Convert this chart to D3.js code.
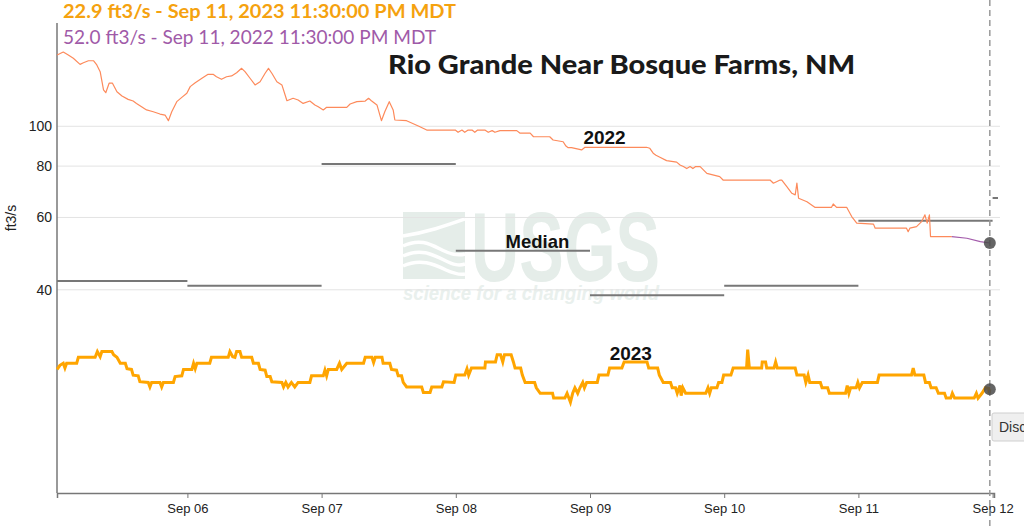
<!DOCTYPE html>
<html><head><meta charset="utf-8">
<script src="https://cdn.jsdelivr.net/npm/d3@7"></script>
<style>body{margin:0;background:#fff;overflow:hidden}svg{display:block}</style>
</head><body><svg id="c" width="1024" height="526"></svg>
<script>
// hours since Sep 05 00:00 and discharge (ft3/s)
const hours2022 = [0.7,1.8,2.7,3.6,4.8,5.4,6.3,7.2,7.8,8.4,9.0,9.4,10.0,10.6,11.4,12.3,13.4,14.3,14.9,15.8,16.7,17.9,19.1,20.0,20.6,21.2,22.1,23.0,23.9,24.5,25.4,26.6,27.7,28.6,29.2,30.1,31.0,31.9,32.8,33.7,34.3,35.2,36.1,37.0,37.9,38.5,39.1,40.0,40.9,41.8,42.9,43.8,44.7,45.9,46.8,47.4,48.3,48.9,50.7,52.5,53.1,54.3,55.8,56.4,56.9,57.9,58.7,59.3,60.1,60.8,61.1,63.2,65.3,66.8,71.9,72.4,73.1,73.6,74.2,74.9,75.4,75.9,77.2,77.8,78.5,79.0,79.9,82.9,83.5,85.3,85.9,88.8,89.4,91.2,91.7,92.1,92.7,94.5,95.1,106.1,106.7,107.3,107.8,108.5,109.7,111.5,112.1,112.7,113.3,113.9,114.4,114.9,115.7,116.9,119.2,119.8,128.2,128.8,130.0,130.3,131.2,132.1,132.7,133.0,133.3,134.8,136.2,139.2,139.5,140.1,141.9,142.8,143.7,146.7,147.0,152.6,152.9,153.2,154.4,155.3,155.9,156.3,156.7,156.9,160.7];
const flow2022 = [149.1,151.6,149.1,146.4,141.5,142.8,144.4,144.4,141.0,135.8,122.6,120.7,127.3,127.3,121.4,118.5,116.3,115.2,113.7,111.6,109.6,108.5,107.1,106.5,103.2,108.5,114.8,117.6,120.3,124.9,127.7,130.9,133.8,133.8,132.0,130.1,132.0,132.6,135.0,138.4,135.8,130.9,126.1,128.4,134.6,138.4,134.6,128.4,126.1,115.4,117.0,115.9,113.7,115.2,112.7,111.6,109.6,111.2,111.2,111.2,113.3,114.8,115.2,117.0,115.4,112.7,103.2,108.5,114.8,109.6,103.6,103.2,100.2,97.9,97.9,96.7,97.9,96.7,97.9,97.9,96.7,97.9,97.9,96.7,97.6,96.7,97.6,97.6,96.2,96.2,94.3,94.3,92.6,91.7,89.5,88.7,88.7,87.6,88.9,88.9,88.4,86.0,85.0,84.1,82.5,81.8,80.5,79.8,78.9,79.8,78.9,79.8,79.8,76.8,75.4,74.0,74.0,72.7,74.0,74.0,71.3,68.7,68.1,72.7,66.8,65.5,63.5,63.5,64.7,63.5,63.5,60.3,58.1,57.8,56.5,56.5,55.4,56.5,57.0,58.6,60.9,58.1,60.9,53.9,53.9];
const hours2022Prov = [160.7,163.4,165.8,167.5];
const flow2022Prov = [53.9,53.4,52.4,52.0];

const hours2023 = [0.7,1.2,1.8,2.1,2.4,4.2,4.5,7.5,7.9,8.4,8.7,10.5,10.8,11.4,12.0,12.9,13.2,14.0,14.3,15.2,15.5,17.0,17.3,17.6,19.1,19.4,19.7,21.5,21.8,23.0,23.3,24.8,25.1,25.4,25.7,28.0,28.3,31.3,31.6,32.1,32.5,32.8,33.4,33.7,35.5,35.8,36.7,37.0,37.9,38.2,38.8,39.1,40.9,41.2,41.6,42.0,42.6,43.2,43.8,45.9,46.2,48.3,48.6,48.9,49.2,50.7,51.2,51.6,52.5,55.5,55.8,57.0,57.3,57.6,58.8,59.0,60.2,60.5,61.4,61.7,62.3,62.6,63.2,65.9,66.2,67.4,67.7,69.5,69.8,71.7,72.0,73.6,74.0,74.3,74.8,77.2,77.3,79.1,79.4,80.0,80.4,80.7,81.9,82.3,82.6,83.6,83.9,84.4,86.1,86.4,87.1,89.3,89.5,91.5,91.9,92.5,92.9,93.3,93.8,94.2,94.7,95.0,95.4,97.3,97.6,99.2,99.5,101.7,102.1,106.2,106.5,108.1,108.4,109.1,110.4,110.7,111.3,111.6,112.1,112.3,112.6,113.1,116.7,117.1,117.4,117.7,118.7,119.0,119.6,119.9,121.2,121.6,124.0,124.2,124.5,126.7,126.8,127.4,127.6,128.9,129.2,129.5,132.7,133.0,134.3,134.6,135.0,135.3,137.2,137.5,138.5,138.8,141.7,142.0,142.3,142.6,143.6,143.9,144.2,144.7,147.4,147.7,153.5,153.8,154.1,155.7,156.0,156.7,157.0,157.9,158.3,159.4,159.7,160.5,160.8,161.2,164.7,165.1,165.4,166.1,166.7,167.3,167.4,167.5];
const flow2023 = [25.6,26.2,26.5,25.8,26.5,26.5,27.4,27.4,28.3,27.5,28.3,28.3,27.8,27.4,26.5,26.5,25.7,25.6,24.8,24.7,23.9,23.8,23.2,23.8,23.8,23.2,23.8,23.8,24.6,24.7,25.6,25.6,26.5,25.7,26.5,26.5,27.4,27.4,28.3,27.5,27.4,28.3,28.3,27.4,27.4,26.5,26.5,25.6,25.5,24.6,24.6,23.9,23.8,23.2,23.8,23.2,23.8,23.2,23.8,23.8,24.7,24.7,25.5,24.7,25.6,25.6,26.5,25.6,26.5,26.5,27.4,27.4,26.6,27.4,27.4,26.5,26.5,25.6,25.5,24.7,24.7,23.8,23.2,23.2,22.5,22.5,23.2,23.2,23.9,23.8,24.8,24.8,25.7,24.8,25.8,25.8,26.7,26.7,27.8,27.8,26.7,27.8,27.8,26.7,25.8,25.8,24.8,23.8,23.8,23.1,22.4,22.4,21.8,21.8,22.4,21.3,22.4,23.1,22.4,23.1,23.8,23.1,23.8,23.8,24.8,24.8,25.8,25.8,26.7,26.7,25.8,25.8,24.8,23.8,23.8,23.1,23.1,22.4,23.4,22.1,23.1,22.4,22.4,23.1,22.4,23.1,23.1,23.8,23.8,24.8,24.8,25.8,25.8,28.6,25.8,25.8,26.7,26.7,25.8,25.8,26.7,25.8,25.8,24.8,24.8,23.8,24.8,23.8,23.8,23.1,23.1,22.4,22.4,23.4,22.4,23.1,23.1,23.8,23.1,23.8,23.8,24.8,24.8,25.8,24.8,24.8,23.8,23.8,23.1,23.1,22.4,22.4,21.8,21.8,22.4,21.8,21.8,22.4,21.8,22.4,23.1,23.0,22.4,22.9];

const medianDays = [0,1,2,3,4,5,6,7]; // day index from Sep 05
const medianValues = [42.0,40.9,81.0,49.8,38.8,40.9,58.9,66.9];

const yTicks = [40,60,80,100];
const headerLines = ["22.9 ft3/s - Sep 11, 2023 11:30:00 PM MDT","52.0 ft3/s - Sep 11, 2022 11:30:00 PM MDT"];
const titleText = "Rio Grande Near Bosque Farms, NM";

const base = Date.UTC(2023,8,5,0,0);
const H = 3600e3;
const T = h => new Date(base + h*H);

const svg = d3.select("#c");
const x = d3.scaleUtc().domain([T(0.68), T(168.25)]).range([57, 994]);
const y = d3.scaleLog().domain([12.81, 177.4]).range([493, 24]);

// watermark
const WM = "#e5ede9";
const wm = svg.append("g").attr("fill",WM);
wm.append("rect").attr("x",403).attr("y",212).attr("width",62).attr("height",67);
const cut = svg.append("g").attr("fill","none").attr("stroke","#fff").attr("stroke-width",3.5);
cut.append("path").attr("d","M465,219 C445,226 428,232 403,236");
cut.append("path").attr("d","M403,246 C420,238 430,244 442,250 C452,255 458,256 465,254");
cut.append("path").attr("d","M403,256 C420,248 432,254 444,260 C454,265 459,266 465,264");
cut.append("path").attr("d","M403,266 C420,258 434,264 446,270 C455,274 460,275 465,274");
wm.append("text").attr("x",471).attr("y",281).attr("font-family","Liberation Sans, Arial").attr("font-weight","bold")
  .attr("font-size",98).attr("textLength",189).attr("lengthAdjust","spacingAndGlyphs").text("USGS");
wm.append("text").attr("x",403).attr("y",300).attr("font-family","Liberation Sans, Arial").attr("font-weight","bold")
  .attr("font-style","italic").attr("font-size",21).attr("textLength",256).attr("lengthAdjust","spacingAndGlyphs").attr("fill","#e9f0ed")
  .text("science for a changing world");

// grid
svg.append("g").selectAll("line").data(yTicks).join("line")
  .attr("x1",57).attr("x2",1000).attr("y1",d=>y(d)).attr("y2",d=>y(d))
  .attr("stroke","#e3e3e3").attr("stroke-width",1);

// y labels
svg.append("g").selectAll("text").data(yTicks).join("text")
  .attr("x",52).attr("y",d=>y(d)).attr("dy","0.35em").attr("text-anchor","end")
  .attr("font-family","Liberation Sans, Arial").attr("font-size",14).attr("fill","#222").text(d=>d);
svg.append("text").attr("transform","translate(16,218) rotate(-90)").attr("text-anchor","middle")
  .attr("font-family","Liberation Sans, Arial").attr("font-size",14).attr("fill","#222").text("ft3/s");

// axes lines
svg.append("line").attr("x1",57).attr("x2",57).attr("y1",23).attr("y2",493).attr("stroke","#777").attr("stroke-width",1.5);
const xa = svg.append("g").attr("transform","translate(0,493)")
  .call(d3.axisBottom(x).ticks(d3.utcDay.every(1)).tickFormat(d3.utcFormat("%b %d")).tickSizeOuter(0).tickSize(5));
xa.select(".domain").attr("stroke","#777").attr("stroke-width",1.5);
xa.selectAll(".tick line").attr("stroke","#777");
xa.selectAll("text").attr("font-family","Liberation Sans, Arial").attr("font-size",13).attr("fill","#222").attr("dy","0.95em");

// clip
svg.append("clipPath").attr("id","cp").append("rect").attr("x",57).attr("y",0).attr("width",941).attr("height",493);

// medians
svg.append("g").attr("clip-path","url(#cp)").selectAll("line").data(medianDays).join("line")
  .attr("x1",d=>x(T(d*24))).attr("x2",d=>x(T(d*24+24)))
  .attr("y1",(d,i)=>y(medianValues[i])).attr("y2",(d,i)=>y(medianValues[i]))
  .attr("stroke","#777").attr("stroke-width",2);

const line = d3.line().x(d=>x(T(d[0]))).y(d=>y(d[1]));
svg.append("path").datum(d3.zip(hours2022,flow2022)).attr("d",line)
  .attr("fill","none").attr("stroke","#fd8a5b").attr("stroke-width",1.2).attr("stroke-linejoin","round");
svg.append("path").datum(d3.zip(hours2022Prov,flow2022Prov)).attr("d",line)
  .attr("fill","none").attr("stroke","#a35bab").attr("stroke-width",1.2);
svg.append("path").datum(d3.zip(hours2023,flow2023)).attr("d",line)
  .attr("fill","none").attr("stroke","#ffa500").attr("stroke-width",3).attr("stroke-linejoin","miter");

// labels
const lab = (t,h,v,fs)=>svg.append("text").attr("x",x(T(h))).attr("y",y(v)).attr("text-anchor","middle")
  .attr("font-family","Liberation Sans, Arial").attr("font-weight","bold").attr("font-size",fs).attr("fill","#111").text(t);
lab("2022",98.6,90.4,19);
lab("2023",103.3,27.0,19);
lab("Median",86.6,50.6,18.5);

// cursor
svg.append("line").attr("x1",x(T(167.5))).attr("x2",x(T(167.5))).attr("y1",0).attr("y2",526)
  .attr("stroke","#999").attr("stroke-width",1.5).attr("stroke-dasharray","6,4");
svg.selectAll("circle.pt").data([flow2022Prov[flow2022Prov.length-1], flow2023[flow2023.length-1]]).join("circle")
  .attr("cx",x(T(167.5))).attr("cy",d=>y(d)).attr("r",6).attr("fill","#4a4a4a").attr("opacity",0.85);

// tooltip
svg.append("rect").attr("x",992).attr("y",413).attr("width",60).attr("height",28).attr("rx",2)
  .attr("fill","#efefef").attr("stroke","#cfcfcf");
svg.append("text").attr("x",999).attr("y",432).attr("font-family","Liberation Sans, Arial").attr("font-size",14)
  .attr("fill","#333").text("Disc");

// header
svg.append("text").attr("x",63).attr("y",18).attr("font-family","Lato, sans-serif").attr("font-weight","bold")
  .attr("font-size",19.5).attr("fill","#f5a20f").attr("textLength",393).attr("lengthAdjust","spacingAndGlyphs").text(headerLines[0]);
svg.append("text").attr("x",63).attr("y",44).attr("font-family","Lato, sans-serif")
  .attr("font-size",19.5).attr("fill","#a05aa8").attr("textLength",373).attr("lengthAdjust","spacingAndGlyphs").text(headerLines[1]);
svg.append("text").attr("x",388).attr("y",74).attr("font-family","Lato, sans-serif").attr("font-weight","900")
  .attr("font-size",26.5).attr("fill","#1a1a1a").attr("textLength",467).attr("lengthAdjust","spacingAndGlyphs").text(titleText);
</script></body></html>
